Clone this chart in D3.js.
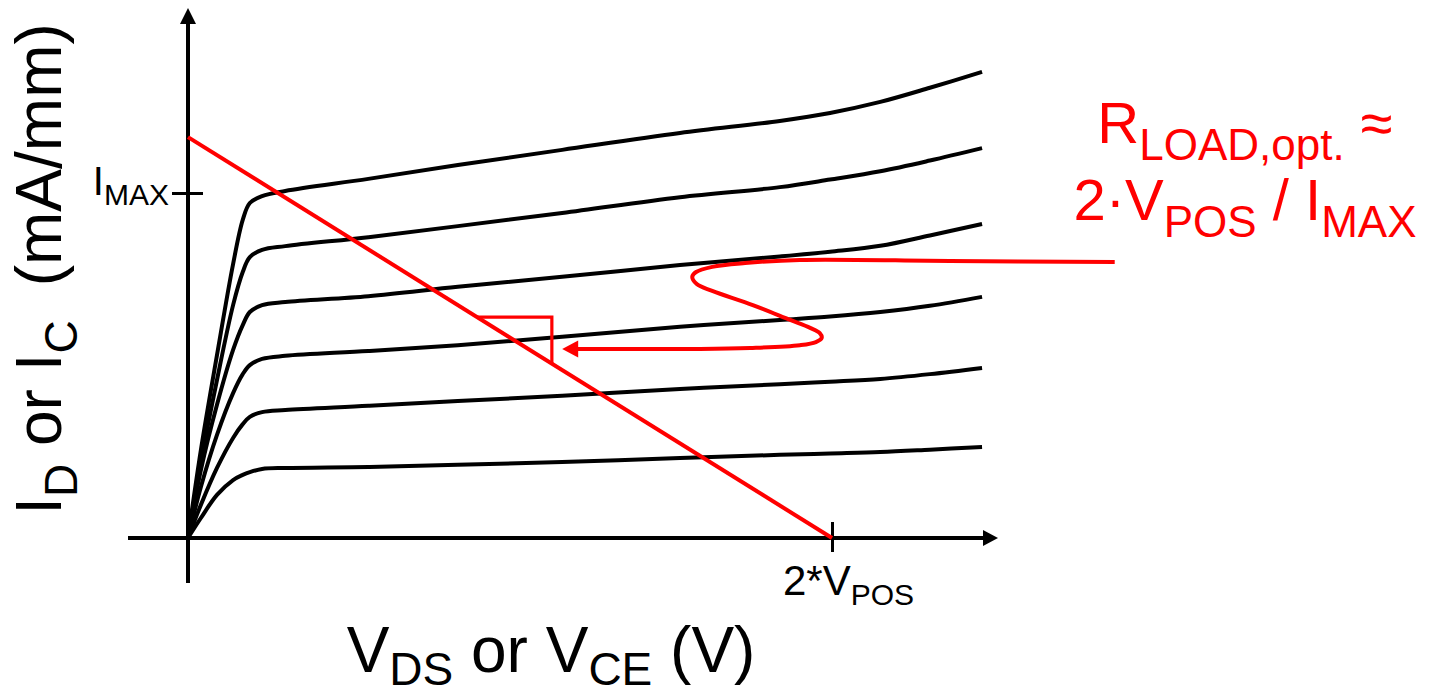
<!DOCTYPE html>
<html><head><meta charset="utf-8">
<script src="https://cdn.jsdelivr.net/npm/d3@7"></script>
<style>
html,body{margin:0;padding:0;background:#fff;}
svg{display:block;font-family:"Liberation Sans",Arial,sans-serif;}
</style>
</head><body>
<svg id="chart" width="1429" height="697"></svg>
<script>
// ---- data (arbitrary units: 2*VPOS = 10, IMAX = 10) ----
const vds = [0, 0.20, 0.45, 0.70, 0.85, 0.96, 1.15, 1.51, 2.80, 4.19, 5.81, 7.64, 9.19, 9.97, 10.75, 11.52, 12.33];
const idCurve1 = [0, 2.55, 5.30, 7.94, 9.22, 9.71, 9.91, 10.06, 10.41, 10.81, 11.25, 11.74, 12.09, 12.32, 12.64, 13.05, 13.51];
const idCurve2 = [0, 2.20, 4.58, 6.75, 7.71, 8.14, 8.35, 8.46, 8.72, 9.04, 9.42, 9.88, 10.17, 10.39, 10.63, 10.94, 11.30];
const idCurve3 = [0, 1.97, 3.86, 5.45, 6.17, 6.55, 6.75, 6.84, 7.01, 7.28, 7.57, 7.91, 8.16, 8.30, 8.47, 8.77, 9.10];
const idCurve4 = [0, 1.48, 2.99, 4.20, 4.75, 5.01, 5.19, 5.28, 5.42, 5.59, 5.83, 6.12, 6.32, 6.42, 6.55, 6.73, 6.99];
const idCurve5 = [0, 0.96, 2.03, 2.90, 3.30, 3.51, 3.65, 3.71, 3.83, 3.97, 4.12, 4.32, 4.46, 4.53, 4.61, 4.75, 4.93];
const idCurve6 = [0, 0.58, 1.25, 1.68, 1.83, 1.91, 2.00, 2.03, 2.06, 2.12, 2.20, 2.32, 2.41, 2.45, 2.49, 2.56, 2.64];
const loadLineV = [0, 10];
const loadLineI = [11.62, 0];
const slopeMarkV = [4.49, 5.65];
const annoV = [14.39, 11.83, 9.50, 8.65, 8.14, 7.89, 7.83, 7.90, 8.14, 8.77, 9.35, 9.66, 9.81, 9.84, 9.75, 9.50, 8.73, 7.95, 6.04];
const annoI = [8.00, 8.03, 8.06, 7.97, 7.86, 7.71, 7.57, 7.36, 7.16, 6.75, 6.32, 6.09, 5.94, 5.80, 5.68, 5.59, 5.51, 5.48, 5.48];
const arrowTip = [5.81, 5.48];
const xTickValues = [10];
const yTickValues = [10];
const xTickLabel = ["2*V", "POS"];
const yTickLabel = ["I", "MAX"];
const xTitle = ["V", "DS", " or V", "CE", " (V)"];
const yTitle = ["I", "D", " or I", "C", "(mA/mm)"];
const annoLine1 = ["R", "LOAD,opt.", " \u2248"];
const annoLine2 = ["2\u00B7V", "POS", " / I", "MAX"];

// ---- layout ----
const svg = d3.select("#chart");
const x = d3.scaleLinear().domain([0, 10]).range([188, 832]);
const y = d3.scaleLinear().domain([0, 10]).range([538, 193]);
const RED = "#ff0000";

// axes lines with arrows
const axisG = svg.append("g");
axisG.append("line").attr("x1", 128).attr("x2", 985).attr("y1", y(0)).attr("y2", y(0))
  .attr("stroke", "#000").attr("stroke-width", 4);
axisG.append("path").attr("d", `M998,${y(0)} L983,${y(0)-8} L983,${y(0)+8} Z`).attr("fill", "#000");
axisG.append("line").attr("x1", x(0)).attr("x2", x(0)).attr("y1", 583).attr("y2", 20)
  .attr("stroke", "#000").attr("stroke-width", 4);
axisG.append("path").attr("d", `M${x(0)},8 L${x(0)-8},24 L${x(0)+8},24 Z`).attr("fill", "#000");

// ticks via d3 axes
const xAx = svg.append("g").attr("transform", `translate(0,${y(0)})`)
  .call(d3.axisBottom(x).tickValues(xTickValues).tickSize(14).tickFormat(""));
xAx.select(".domain").remove();
xAx.selectAll(".tick line").attr("y1", -16).attr("stroke", "#000").attr("stroke-width", 3);

const yAx = svg.append("g").attr("transform", `translate(${x(0)},0)`)
  .call(d3.axisLeft(y).tickValues(yTickValues).tickSize(16).tickFormat(""));
yAx.select(".domain").remove();
yAx.selectAll(".tick line").attr("x1", 15).attr("stroke", "#000").attr("stroke-width", 3);

// tick labels
const xt = svg.append("text").attr("x", x(xTickValues[0]) - 49).attr("y", 595)
  .style("font-size", "42px").attr("fill", "#000");
xt.append("tspan").text(xTickLabel[0]);
xt.append("tspan").attr("dy", 10).style("font-size", "30px").text(xTickLabel[1]);

const yt = svg.append("text").attr("x", 169).attr("y", y(yTickValues[0]) + 2)
  .attr("text-anchor", "end").style("font-size", "40px").attr("fill", "#000");
yt.append("tspan").text(yTickLabel[0]);
yt.append("tspan").attr("dy", 10).style("font-size", "30px").text(yTickLabel[1]);

// output curves
const line = d3.line().x(d => x(d[0])).y(d => y(d[1])).curve(d3.curveCatmullRom.alpha(0.5));
[idCurve1, idCurve2, idCurve3, idCurve4, idCurve5, idCurve6].forEach(c => {
  svg.append("path").datum(vds.map((v, i) => [v, c[i]])).attr("d", line)
    .attr("fill", "none").attr("stroke", "#000").attr("stroke-width", 4)
    .attr("stroke-linejoin", "round").attr("stroke-linecap", "butt");
});

// load line
svg.append("path").datum(loadLineV.map((v, i) => [v, loadLineI[i]]))
  .attr("d", d3.line().x(d => x(d[0])).y(d => y(d[1])))
  .attr("fill", "none").attr("stroke", RED).attr("stroke-width", 4);

// slope marker
const loadAt = v => loadLineI[0] + (loadLineI[1] - loadLineI[0]) * (v - loadLineV[0]) / (loadLineV[1] - loadLineV[0]);
svg.append("path").datum([[slopeMarkV[0], loadAt(slopeMarkV[0])], [slopeMarkV[1], loadAt(slopeMarkV[0])], [slopeMarkV[1], loadAt(slopeMarkV[1])]])
  .attr("d", d3.line().x(d => x(d[0])).y(d => y(d[1])))
  .attr("fill", "none").attr("stroke", RED).attr("stroke-width", 3.2);

// annotation curve + arrow
svg.append("path").datum(annoV.map((v, i) => [v, annoI[i]]))
  .attr("d", d3.line().x(d => x(d[0])).y(d => y(d[1])).curve(d3.curveCatmullRom.alpha(0.5)))
  .attr("fill", "none").attr("stroke", RED).attr("stroke-width", 4).attr("stroke-linecap", "butt");
const tx = x(arrowTip[0]), ty = y(arrowTip[1]);
svg.append("path").attr("d", `M${tx},${ty} L${tx+16},${ty-8.5} L${tx+16},${ty+8.5} Z`).attr("fill", RED);

// axis titles
const xTi = svg.append("text").attr("x", 551).attr("y", 672).attr("text-anchor", "middle")
  .style("font-size", "64px").attr("fill", "#000");
xTi.append("tspan").text(xTitle[0]);
xTi.append("tspan").attr("dy", 13).style("font-size", "46px").text(xTitle[1]);
xTi.append("tspan").attr("dy", -13).text(xTitle[2]);
xTi.append("tspan").attr("dy", 13).style("font-size", "46px").text(xTitle[3]);
xTi.append("tspan").attr("dy", -13).text(xTitle[4]);

const yTi = svg.append("text").attr("transform", "translate(61,269) rotate(-90)").attr("text-anchor", "middle")
  .style("font-size", "64px").attr("fill", "#000");
yTi.append("tspan").text(yTitle[0]);
yTi.append("tspan").attr("dy", 16).style("font-size", "46px").text(yTitle[1]);
yTi.append("tspan").attr("dy", -16).text(yTitle[2]);
yTi.append("tspan").attr("dy", 16).style("font-size", "46px").text(yTitle[3]);
yTi.append("tspan").attr("dy", -16).attr("dx", 34).text(yTitle[4]);

// red annotation text
const a1 = svg.append("text").attr("x", 1245).attr("y", 143).attr("text-anchor", "middle")
  .style("font-size", "58px").attr("fill", RED);
a1.append("tspan").text(annoLine1[0]);
a1.append("tspan").attr("dy", 17).style("font-size", "44px").text(annoLine1[1]);
a1.append("tspan").attr("dy", -17).text(annoLine1[2]);

const a2 = svg.append("text").attr("x", 1245).attr("y", 220).attr("text-anchor", "middle")
  .style("font-size", "58px").attr("fill", RED);
a2.append("tspan").text(annoLine2[0]);
a2.append("tspan").attr("dy", 17).style("font-size", "44px").text(annoLine2[1]);
a2.append("tspan").attr("dy", -17).text(annoLine2[2]);
a2.append("tspan").attr("dy", 17).style("font-size", "44px").text(annoLine2[3]);
</script>
</body></html>
